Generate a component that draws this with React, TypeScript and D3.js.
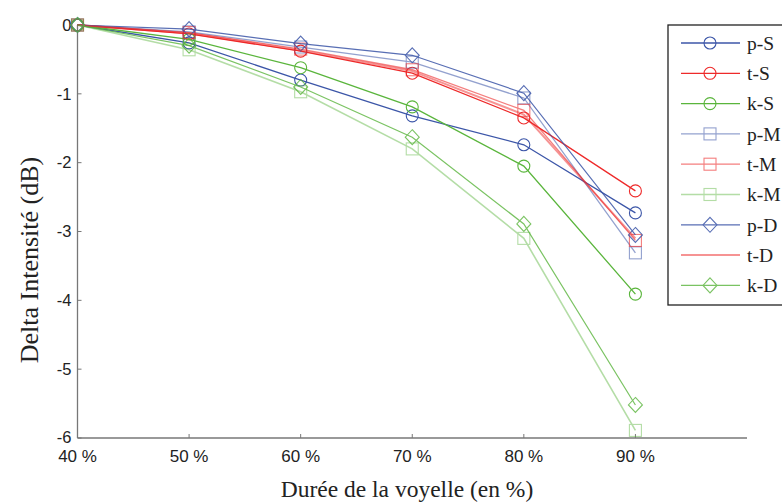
import React from "react";
import * as d3 from "d3";

const xTicks = [40, 50, 60, 70, 80, 90];
const yTicks = [0, -1, -2, -3, -4, -5, -6];
const xs = [40, 50, 60, 70, 80, 90];

const seriesNames = ["p-S", "t-S", "k-S", "p-M", "t-M", "k-M", "p-D", "t-D", "k-D"];
const pS = [0, -0.26, -0.8, -1.32, -1.74, -2.73];
const tS = [0, -0.13, -0.38, -0.7, -1.35, -2.41];
const kS = [0, -0.21, -0.62, -1.19, -2.05, -3.91];
const pM = [0, -0.1, -0.32, -0.54, -1.06, -3.31];
const tM = [0, -0.11, -0.35, -0.65, -1.24, -3.13];
const kM = [0, -0.36, -0.97, -1.8, -3.1, -5.89];
const pD = [0, -0.06, -0.27, -0.44, -0.99, -3.05];
const tD = [0, -0.12, -0.37, -0.67, -1.3, -3.1];
const kD = [0, -0.3, -0.9, -1.63, -2.89, -5.52];
const seriesValues = [pS, tS, kS, pM, tM, kM, pD, tD, kD];

const BLUE = "#3c56a8";
const RED = "#ee2a2a";
const GREEN = "#5ab53c";
const styles = [
  { color: BLUE, op: 1, w: 1.3, marker: "circle" },
  { color: RED, op: 1, w: 1.3, marker: "circle" },
  { color: GREEN, op: 1, w: 1.3, marker: "circle" },
  { color: BLUE, op: 0.55, w: 1.3, marker: "square" },
  { color: RED, op: 0.6, w: 1.3, marker: "square" },
  { color: GREEN, op: 0.45, w: 1.6, marker: "square" },
  { color: BLUE, op: 0.85, w: 1.2, marker: "diamond" },
  { color: RED, op: 0.5, w: 2, marker: "none" },
  { color: GREEN, op: 0.8, w: 1.2, marker: "diamond" },
];

function Marker({ type, x, y, color }: { type: string; x: number; y: number; color: string }) {
  if (type === "circle") return <circle cx={x} cy={y} r={6} fill="none" stroke={color} strokeWidth={1.1} />;
  if (type === "square") return <rect x={x - 6} y={y - 6} width={12} height={12} fill="none" stroke={color} strokeWidth={1.1} />;
  if (type === "diamond")
    return <path d={`M${x},${y - 7.5}L${x + 7},${y}L${x},${y + 7.5}L${x - 7},${y}Z`} fill="none" stroke={color} strokeWidth={1.1} />;
  return null;
}

export default function App() {
  const x = d3.scaleLinear().domain([40, 100]).range([77.5, 747]);
  const y = d3.scaleLinear().domain([0, -6]).range([25, 438]);
  const line = d3.line<number>().x((_, i) => x(xs[i])).y((d) => y(d));
  const axisColor = "#777";
  const legX = 668, legY = 25, legRow = 30.3;
  return (
    <svg width={782} height={503} style={{ position: "absolute", left: 0, top: 0, background: "#fff" }}>
      <rect width={782} height={503} fill="#fff" />
      {/* axes */}
      <line x1={x(40)} x2={x(40)} y1={y(0)} y2={y(-6)} stroke={axisColor} strokeWidth={1.3} />
      <line x1={x(40)} x2={x(100)} y1={y(-6)} y2={y(-6)} stroke={axisColor} strokeWidth={1.5} />
      {yTicks.map((t) => (
        <g key={t}>
          <line x1={x(40)} x2={x(40) + 4} y1={y(t)} y2={y(t)} stroke={axisColor} strokeWidth={1} />
          <text x={x(40) - 6} y={y(t) - (t === -6 ? 1 : 0)} dy="0.35em" textAnchor="end" fontFamily="Liberation Sans, Arial" fontSize={16.5} fill="#222">
            {t}
          </text>
        </g>
      ))}
      {xTicks.map((t) => (
        <g key={t}>
          <line x1={x(t)} x2={x(t)} y1={y(-6)} y2={y(-6) - 4} stroke={axisColor} strokeWidth={1} />
          <text x={x(t)} y={y(-6) + 24} textAnchor="middle" fontFamily="Liberation Sans, Arial" fontSize={17} fill="#222">
            {`${t} %`}
          </text>
        </g>
      ))}
      <text x={407} y={497} textAnchor="middle" fontFamily="Liberation Serif, serif" fontSize={23.5} fill="#222">
        Durée de la voyelle (en %)
      </text>
      <text transform="translate(38,260) rotate(-90)" textAnchor="middle" fontFamily="Liberation Serif, serif" fontSize={26} fill="#222">
        Delta Intensité (dB)
      </text>
      {/* series */}
      {seriesValues.map((vals, si) => {
        const s = styles[si];
        return (
          <g key={si} opacity={s.op}>
            <path d={line(vals) || ""} fill="none" stroke={s.color} strokeWidth={s.w} />
            {vals.map((v, i) => (
              <Marker key={i} type={s.marker} x={x(xs[i])} y={y(v)} color={s.color} />
            ))}
          </g>
        );
      })}
      {/* legend */}
      <rect x={legX} y={legY} width={130} height={280} fill="#fff" stroke="#222" strokeWidth={1.3} />
      {seriesNames.map((n, i) => {
        const s = styles[i];
        const cy = legY + 18 + i * legRow;
        return (
          <g key={n}>
            <g opacity={s.op}>
              <line x1={681} x2={740} y1={cy} y2={cy} stroke={s.color} strokeWidth={s.w} />
              <Marker type={s.marker} x={710} y={cy} color={s.color} />
            </g>
            <text x={747} y={cy} dy="0.35em" fontFamily="Liberation Serif, serif" fontSize={19.5} fill="#222">
              {n}
            </text>
          </g>
        );
      })}
    </svg>
  );
}
